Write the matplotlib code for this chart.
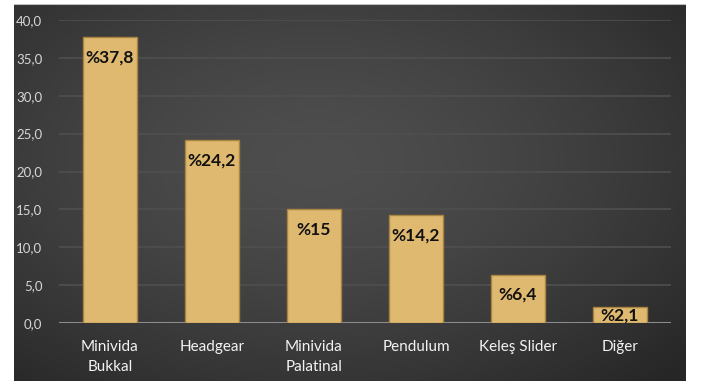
import matplotlib.pyplot as plt
import numpy as np

# Veriler
kategoriler = ['Minivida\nBukkal', 'Headgear', 'Minivida\nPalatinal', 'Pendulum', 'Keleş Slider', 'Diğer']
degerler = [37.8, 24.2, 15, 14.2, 6.4, 2.1]
etiketler = ['%37,8', '%24,2', '%15', '%14,2', '%6,4', '%2,1']
y_ticks = [0, 5, 10, 15, 20, 25, 30, 35, 40]

plt.rcParams['font.family'] = ['Lato', 'DejaVu Sans']

fig = plt.figure(figsize=(7.02, 3.81), dpi=100)
fig.patch.set_facecolor('white')

# Koyu, ortasi acik degrade arka plan
bg = fig.add_axes([14 / 702, 0, 672 / 702, 377 / 381])
yy, xx = np.mgrid[0:1:200j, 0:1:300j]
r = np.sqrt(((xx - 0.45) / 0.75) ** 2 + ((yy - 0.42) / 0.8) ** 2)
r = np.clip(r, 0, 1)
c0, c1 = 0x4e / 255, 0x26 / 255
img = c0 + (c1 - c0) * r ** 1.5
bg.imshow(np.dstack([img, img, img]), aspect='auto', extent=[0, 1, 0, 1], origin='upper')
bg.axhline(1, color='#bdbdbd', lw=1.5)
bg.set_axis_off()

ax = fig.add_axes([59 / 702, 58 / 381, 612 / 702, 303 / 381])
ax.patch.set_alpha(0)

x = np.arange(len(kategoriler))
bars = ax.bar(x, degerler, width=0.53, color='#dfb970', edgecolor='#a88440', linewidth=1.0, zorder=3)

for xi, v, lab in zip(x, degerler, etiketler):
    ax.text(xi, max(v - 2.7, v / 2), lab, ha='center', va='center',
            fontsize=12.5, fontweight='bold', color='#111111', zorder=4)

ax.set_xlim(-0.5, len(kategoriler) - 0.5)
ax.set_ylim(0, 40)
ax.set_yticks(y_ticks)
ax.set_yticklabels([f'{t:.1f}'.replace('.', ',') for t in y_ticks])
ax.set_xticks(x)
ax.set_xticklabels(kategoriler, linespacing=1.6)

ax.grid(axis='y', color='#4f4f4f', linewidth=1.2, zorder=0)
ax.axhline(0, color='#8c8c8c', linewidth=1.5, zorder=2)
for s in ax.spines.values():
    s.set_visible(False)
ax.tick_params(axis='y', length=0, pad=12, labelsize=9.5, labelcolor='#d6d6d6')
ax.tick_params(axis='x', length=0, pad=12, labelsize=11, labelcolor='#f2f2f2')

plt.savefig('out.png', dpi=100)
